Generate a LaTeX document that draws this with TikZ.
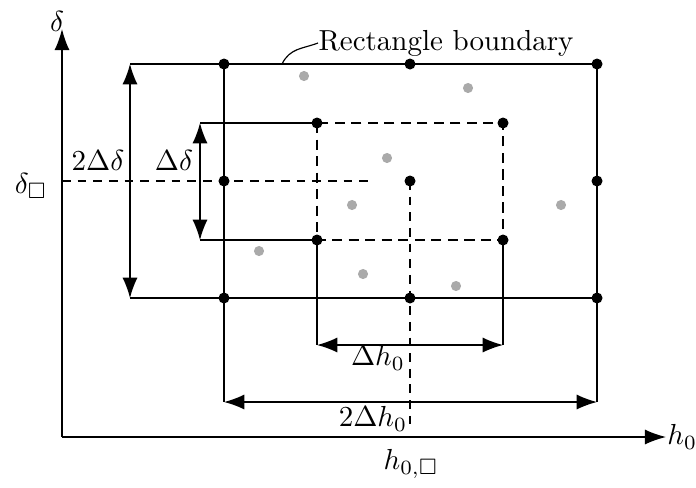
\documentclass[tikz,border=0pt]{standalone}
\usepackage{amsmath,amssymb}
\usetikzlibrary{arrows.meta,positioning}
\definecolor{samplegray}{RGB}{170,170,170}

\begin{document}
\begin{tikzpicture}[x=0.345pt,y=-0.345pt,
    axis/.style={-{Latex[length=7.3pt,width=5.2pt]},line width=0.45pt},
    dimline/.style={{Latex[length=7pt,width=5.2pt]}-{Latex[length=7pt,width=5.2pt]},line width=0.45pt},
    extline/.style={line width=0.4pt},
    outerbox/.style={line width=0.75pt},
    innerbox/.style={line width=0.75pt,dash pattern=on 3.5pt off 2.2pt},
    guide/.style={line width=0.4pt,dash pattern=on 3pt off 2.4pt},
    vtx/.style={circle,fill=black,inner sep=0pt,minimum size=3.8pt},
    sample/.style={circle,fill=samplegray,inner sep=0pt,minimum size=3.5pt},
    lbl/.style={inner sep=0pt}
  ]
    \useasboundingbox (0,0) rectangle (696,487);
    % axes
    \coordinate (O) at (62,437);
    \coordinate (ytip) at (62,29);
    \coordinate (xtip) at (666,437);
    % outer rectangle
    \coordinate (tl) at (224,64);
    \coordinate (tr) at (597,64);
    \coordinate (br) at (597,298);
    \coordinate (bl) at (224,298);
    \coordinate (tm) at (410,64);
    \coordinate (bm) at (410,298);
    \coordinate (lm) at (224,181);
    \coordinate (rm) at (597,181);
    \coordinate (ctr) at (410,181);
    % inner rectangle
    \coordinate (itl) at (317,123);
    \coordinate (itr) at (503,123);
    \coordinate (ibr) at (503,240);
    \coordinate (ibl) at (317,240);
    % dimension ends
    \coordinate (dd1) at (130,64);
    \coordinate (dd2) at (130,298);
    \coordinate (d1) at (200,123);
    \coordinate (d2) at (200,240);
    \coordinate (h1) at (317,345);
    \coordinate (h2) at (503,345);
    \coordinate (hh1) at (224,402);
    \coordinate (hh2) at (597,402);
    % guides
    \coordinate (gy) at (62,181);
    \coordinate (gx) at (375,181);
    \coordinate (gb) at (410,428);
    \coordinate (rbd) at (282,64);

    \draw[axis] (O) -- (ytip);
    \draw[axis] (O) -- (xtip);
    \draw[guide] (gy) -- (gx);
    \draw[guide] (ctr) -- (gb);

    \draw[outerbox] (tl) rectangle (br);
    \draw[innerbox] (itl) rectangle (ibr);

    \draw[extline] (dd1) -- (tl);
    \draw[extline] (dd2) -- (bl);
    \draw[extline] (d1) -- (itl);
    \draw[extline] (d2) -- (ibl);
    \draw[extline] (ibl) -- (h1);
    \draw[extline] (ibr) -- (h2);
    \draw[extline] (bl) -- (hh1);
    \draw[extline] (br) -- (hh2);

    \draw[dimline] (dd1) -- (dd2);
    \draw[dimline] (d1) -- (d2);
    \draw[dimline] (h1) -- (h2);
    \draw[dimline] (hh1) -- (hh2);

    % labels
    \node[lbl] (ylab) at (57,21) {$\delta$};
    \node[lbl,right=0.3pt of xtip] (xlab) {$h_0$};
    \node[lbl] (dbox) at (31,186) {$\delta_{\square}$};
    \node[lbl] (hbox) at (411,464) {$h_{0,\square}$};
    \node[lbl] (twodd) at (98,160) {$2\Delta\delta$};
    \node[lbl] (dd) at (174,160) {$\Delta\delta$};
    \node[lbl] (dh) at (378,358) {$\Delta h_0$};
    \node[lbl] (twodh) at (373,419) {$2\Delta h_0$};
    \node[lbl,anchor=west] (rlab) at (318,43) {Rectangle boundary};
    \draw[extline] (rbd) .. controls (290,48) and (302,49) .. (rlab.west);

    % vertices
    \node[vtx] at (tl) {};
    \node[vtx] at (tm) {};
    \node[vtx] at (tr) {};
    \node[vtx] at (lm) {};
    \node[vtx] at (ctr) {};
    \node[vtx] at (rm) {};
    \node[vtx] at (bl) {};
    \node[vtx] at (bm) {};
    \node[vtx] at (br) {};
    \node[vtx] at (itl) {};
    \node[vtx] at (itr) {};
    \node[vtx] at (ibr) {};
    \node[vtx] at (ibl) {};

    % samples
    \node[sample] at (304,76) {};
    \node[sample] at (468,88) {};
    \node[sample] at (387,158) {};
    \node[sample] at (352,205) {};
    \node[sample] at (561,205) {};
    \node[sample] at (259,251) {};
    \node[sample] at (363,274) {};
    \node[sample] at (456,286) {};
  \end{tikzpicture}
\end{document}
